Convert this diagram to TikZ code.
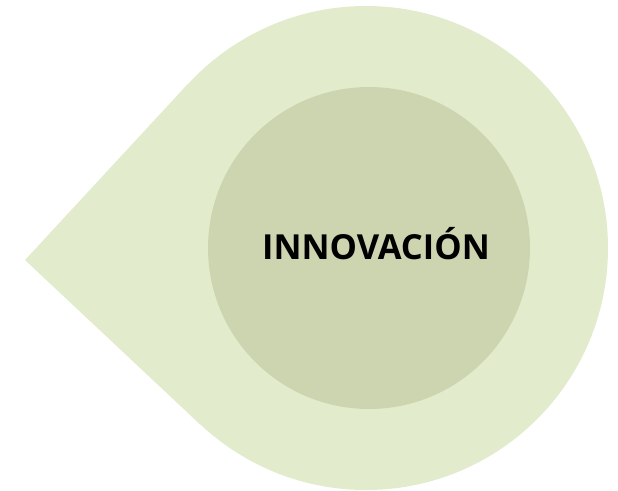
\documentclass[tikz,border=0pt]{standalone}
\usepackage{fontspec}
\setmainfont{Open Sans}
\usetikzlibrary{calc}
\definecolor{outerg}{HTML}{E2ECCD}
\definecolor{innerg}{HTML}{CDD5B0}
\begin{document}
\begin{tikzpicture}[x=1pt,y=-1pt,
  outerstyle/.style={circle,fill=outerg,draw=none,inner sep=0pt,minimum size=484pt},
  innerstyle/.style={circle,fill=innerg,draw=none,inner sep=0pt,minimum size=322pt},
  labelstyle/.style={font=\bfseries\fontsize{34.5}{40}\selectfont,text=black,inner sep=0pt}]
\useasboundingbox (0,0) rectangle (618,490);
\coordinate (tip) at (25,260);
\node[outerstyle] (outer) at (366,248) {};
\coordinate (t1) at (tangent cs:node=outer,point={(tip)},solution=1);
\coordinate (t2) at (tangent cs:node=outer,point={(tip)},solution=2);
\fill[outerg] (tip) -- (t1) -- (outer.center) -- (t2) -- cycle;
\node[innerstyle] (inner) at (369,248) {};
\node[labelstyle] (lab) at (376,244) {INNOVACIÓN};
\end{tikzpicture}
\end{document}
